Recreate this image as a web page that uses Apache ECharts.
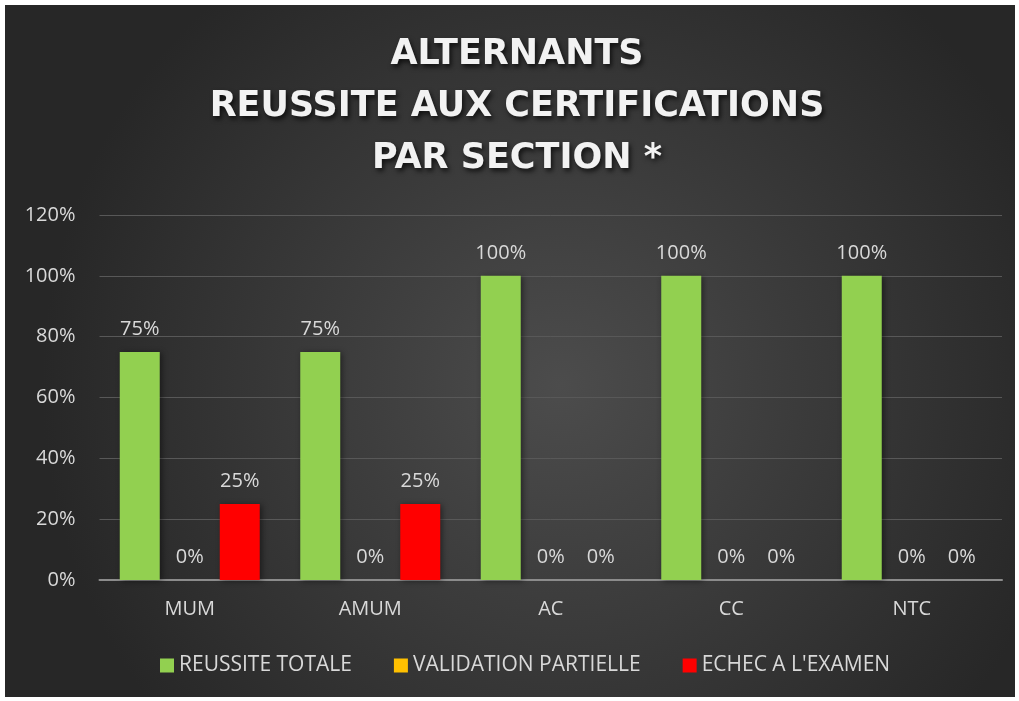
<!DOCTYPE html>
<html>
<head>
<meta charset="utf-8">
<script src="https://cdn.jsdelivr.net/npm/echarts@6/dist/echarts.min.js"></script>
<style>
  html, body { margin: 0; padding: 0; background: #fff; }
  #chart { position: absolute; left: 5px; top: 5px; width: 1010px; height: 692px; }
</style>
</head>
<body>
<div id="chart"></div>
<script>
const sections = ["MUM", "AMUM", "AC", "CC", "NTC"];
const reussiteTotale = [75, 75, 100, 100, 100];
const validationPartielle = [0, 0, 0, 0, 0];
const echecExamen = [25, 25, 0, 0, 0];

const myChart = echarts.init(document.getElementById("chart"));

const labelStyle = {
  show: true,
  position: "top",
  distance: 13,
  color: "#d9d9d9",
  fontSize: 20,
  fontFamily: "Open Sans",
  formatter: "{c}%"
};

function barSeries(name, data, color) {
  return {
    name: name,
    type: "bar",
    data: data,
    barWidth: 40,
    barGap: "25%",
    itemStyle: {
      color: color,
      shadowColor: "rgba(0,0,0,0.45)",
      shadowBlur: 6,
      shadowOffsetX: 2,
      shadowOffsetY: 1
    },
    label: labelStyle
  };
}

myChart.setOption({
  backgroundColor: {
    type: "radial",
    x: 0.55,
    y: 0.55,
    r: 0.75,
    colorStops: [
      { offset: 0, color: "#4c4c4c" },
      { offset: 1, color: "#272727" }
    ]
  },
  textStyle: { fontFamily: "Open Sans" },
  title: {
    text: "ALTERNANTS\nREUSSITE AUX CERTIFICATIONS\nPAR SECTION *",
    left: 507,
    textAlign: "center",
    top: 19,
    textStyle: {
      color: "#f2f2f2",
      fontSize: 35,
      fontWeight: "bold",
      fontFamily: "DejaVu Sans",
      lineHeight: 52,
      textShadowColor: "rgba(0,0,0,0.7)",
      textShadowBlur: 5,
      textShadowOffsetX: 2,
      textShadowOffsetY: 3
    }
  },
  legend: {
    bottom: 16,
    left: 150,
    itemWidth: 14,
    itemHeight: 14,
    itemGap: 42,
    icon: "rect",
    textStyle: { color: "#d9d9d9", fontSize: 21, fontFamily: "Open Sans" },
    data: ["REUSSITE TOTALE", "VALIDATION PARTIELLE", "ECHEC A L'EXAMEN"]
  },
  grid: {
    left: 94.5,
    right: 13,
    top: 210,
    bottom: 117
  },
  xAxis: {
    type: "category",
    data: sections,
    axisTick: { show: false },
    axisLine: { lineStyle: { color: "#8c8c8c", width: 2 } },
    axisLabel: { color: "#d9d9d9", fontSize: 20, margin: 19 }
  },
  yAxis: {
    type: "value",
    min: 0,
    max: 120,
    interval: 20,
    axisLabel: { color: "#d9d9d9", fontSize: 20, margin: 24, formatter: "{value}%" },
    splitLine: { lineStyle: { color: "#585858", width: 1 } },
    axisLine: { show: false },
    axisTick: { show: false }
  },
  series: [
    barSeries("REUSSITE TOTALE", reussiteTotale, "#92d050"),
    barSeries("VALIDATION PARTIELLE", validationPartielle, "#ffc000"),
    barSeries("ECHEC A L'EXAMEN", echecExamen, "#ff0000")
  ]
});
</script>
</body>
</html>
